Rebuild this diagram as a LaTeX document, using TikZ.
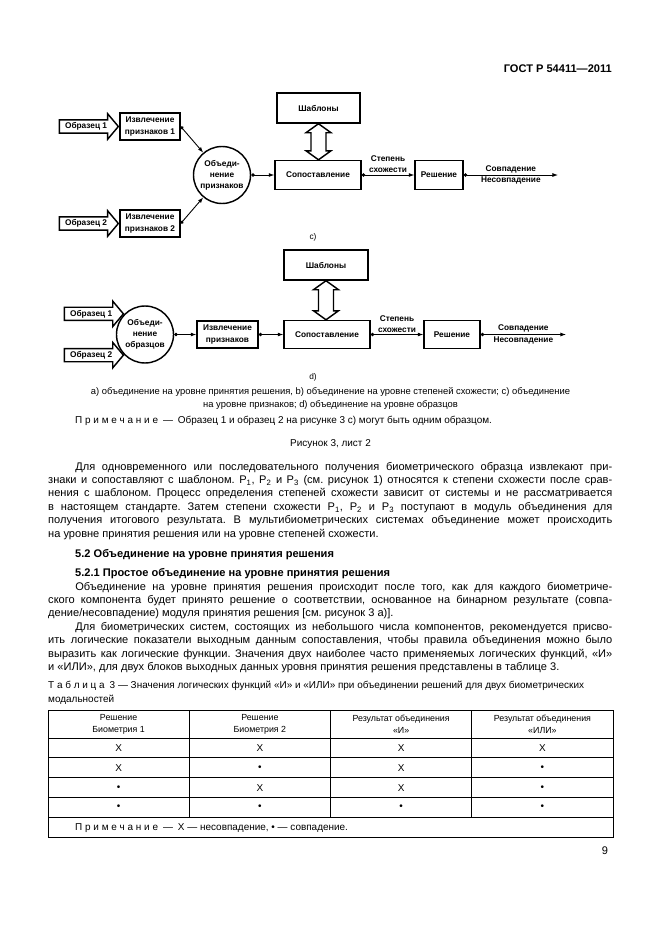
\documentclass[tikz,border=0pt]{standalone}
\usepackage{fontspec}
\setmainfont{Liberation Sans}
\usetikzlibrary{arrows.meta,calc,shapes.arrows}
\newcommand\pxu{0.904pt}
\newcommand\dgfont{\fontsize{7.5pt}{10pt}\selectfont\bfseries}
\newcommand\bodyfont{\fontsize{10pt}{12.2pt}\selectfont}
\newcommand\notefont{\fontsize{9pt}{12.3pt}\selectfont}
\newcommand\capfont{\fontsize{8.5pt}{11pt}\selectfont}
\newcommand\cellfont{\fontsize{8pt}{10.8pt}\selectfont}
\newcommand\indnt{\hspace*{24.5pt}}
\frenchspacing
\hyphenpenalty=10000
\tolerance=9999
\tikzset{
    blk/.style={draw,line width=1.3pt,fill=white,align=center,font=\dgfont,inner sep=0pt},
    fuse/.style={circle,draw,line width=1.3pt,fill=white,minimum size=57*\pxu,
        align=center,font=\dgfont,inner sep=0pt},
    sample/.style={single arrow,draw,line width=1.3pt,fill=white,font=\dgfont,
        single arrow head extend=5.5pt,single arrow tip angle=100,
        inner xsep=1.5pt,inner ysep=1.8pt,minimum height=59*\pxu,anchor=tip},
    hollow/.style={draw,line width=1.3pt,fill=white,line join=miter},
    link/.style={{Circle[length=3.2pt]}-{Latex[length=5pt,width=3.6pt]},line width=0.8pt},
    lbl/.style={font=\dgfont,align=center,inner sep=1.5pt},
    figtag/.style={font=\fontsize{7.5pt}{9pt}\selectfont,inner sep=0pt},
    para/.style={text width=509.9pt,align=justify,font=\bodyfont,inner sep=0pt,anchor=base west},
    line/.style={inner sep=0pt,anchor=base west},
    cell/.style={font=\cellfont,align=center,inner sep=0pt},
    tbl/.style={line width=0.7pt}
}
\begin{document}
\begin{tikzpicture}[x=0.904pt,y=-0.904pt]
\useasboundingbox[fill=white] (0,0) rectangle (661,935);

% running head
\node[line,anchor=base east,font=\fontsize{10pt}{12pt}\selectfont\bfseries] (head) at (612,72.5) {ГОСТ Р 54411—2011};

% figure c): fusion at feature level
\node[blk,minimum width=83*\pxu,minimum height=30*\pxu] (tplC) at (318.5,108) {Шаблоны};
\node[blk,minimum width=86*\pxu,minimum height=29*\pxu] (cmpC) at (318,175) {Сопоставление};
\node[blk,minimum width=60*\pxu,minimum height=27*\pxu] (extC1) at (150,126.5) {Извлечение\\признаков 1};
\node[blk,minimum width=60*\pxu,minimum height=27*\pxu] (extC2) at (150,223.5) {Извлечение\\признаков 2};
\node[fuse] (fusC) at (222,175) {Объеди-\\нение\\признаков};
\node[blk,minimum width=48*\pxu,minimum height=29*\pxu] (decC) at (439,175) {Решение};
\coordinate (outC) at (558,175);
\node[sample] (smpC1) at (extC1.west) {Образец 1};
\node[sample] (smpC2) at (extC2.west) {Образец 2};

\draw[link] (extC1.east) -- (fusC.130);
\draw[link] (extC2.east) -- (fusC.230);
\draw[link] (fusC.east) -- (cmpC.west);
\draw[link] (cmpC.east) -- node[lbl,above] {Степень\\схожести} (decC.west);
\draw[link] (decC.east) -- node[lbl,above] {Совпадение} node[lbl,below] {Несовпадение} (outC);

\coordinate (dblC1) at (tplC.south);
\coordinate (dblC2) at (tplC.south |- cmpC.north);
\draw[hollow] (dblC1) -- ++(12.5,9) -- ++(-5,0) -- ($(dblC2)+(7.5,-9)$) -- ++(5,0) -- (dblC2)
    -- ++(-12.5,-9) -- ++(5,0) -- ($(dblC1)+(-7.5,9)$) -- ++(-5,0) -- cycle;

\node[figtag] (tagC) at (313,237) {c)};

% figure d): fusion at sample level
\node[fuse] (fusD) at (145,334.5) {Объеди-\\нение\\образцов};
\node[sample] (smpD1) at (fusD.135) {Образец 1};
\node[sample] (smpD2) at (fusD.225) {Образец 2};
\node[blk,minimum width=61*\pxu,minimum height=27*\pxu] (extD) at (227.5,334.5) {Извлечение\\признаков};
\node[blk,minimum width=84*\pxu,minimum height=30*\pxu] (tplD) at (326,265) {Шаблоны};
\node[blk,minimum width=86*\pxu,minimum height=28*\pxu] (cmpD) at (327,334.5) {Сопоставление};
\node[blk,minimum width=56*\pxu,minimum height=28*\pxu] (decD) at (452,334.5) {Решение};
\coordinate (outD) at (566,334.5);

\draw[link] (fusD.east) -- (extD.west);
\draw[link] (extD.east) -- (cmpD.west);
\draw[link] (cmpD.east) -- node[lbl,above] {Степень\\схожести} (decD.west);
\draw[link] (decD.east) -- node[lbl,above] {Совпадение} node[lbl,below] {Несовпадение} (outD);

\coordinate (dblD1) at (tplD.south);
\coordinate (dblD2) at (tplD.south |- cmpD.north);
\draw[hollow] (dblD1) -- ++(12.5,9) -- ++(-5,0) -- ($(dblD2)+(7.5,-9)$) -- ++(5,0) -- (dblD2)
    -- ++(-12.5,-9) -- ++(5,0) -- ($(dblD1)+(-7.5,9)$) -- ++(-5,0) -- cycle;

\node[figtag] (tagD) at (313,377) {d)};

% figure legend
\node[line,anchor=base,font=\capfont] (capA) at (330.5,394.5) {a) объединение на уровне принятия решения, b) объединение на уровне степеней схожести; c) объединение};
\node[line,anchor=base,font=\capfont] (capB) at (330.5,407.5) {на уровне признаков; d) объединение на уровне образцов};
\node[line,font=\notefont] (fnote) at (75,423.6) {П р и м е ч а н и е\enspace—\enspace Образец 1 и образец 2 на рисунке 3 c) могут быть одним образцом.};
\node[line,anchor=base,font=\notefont] (ftitle) at (330.5,446.6) {Рисунок 3, лист 2};

% body text
\node[para] (txtA) at (48,470) {\indnt Для одновременного или последовательного получения биометрического образца извлекают при-\linebreak знаки и сопоставляют с шаблоном. P\textsubscript{1}, P\textsubscript{2} и P\textsubscript{3} (см. рисунок 1) относятся к степени схожести после срав-\linebreak нения с шаблоном. Процесс определения степеней схожести зависит от системы и не рассматривается\linebreak в настоящем стандарте. Затем степени схожести P\textsubscript{1}, P\textsubscript{2} и P\textsubscript{3} поступают в модуль объединения для\linebreak получения итогового результата. В мультибиометрических системах объединение может происходить\linebreak на уровне принятия решения или на уровне степеней схожести.};

\node[line,font=\bodyfont\bfseries] (sec52) at (75,557.7) {5.2 Объединение на уровне принятия решения};
\node[line,font=\bodyfont\bfseries] (sec521) at (75,576) {5.2.1 Простое объединение на уровне принятия решения};

\node[para] (txtB) at (48,590) {\indnt Объединение на уровне принятия решения происходит после того, как для каждого биометриче-\linebreak ского компонента будет принято решение о соответствии, основанное на бинарном результате (совпа-\linebreak дение/несовпадение) модуля принятия решения [см. рисунок 3 a)].\par
\indnt Для биометрических систем, состоящих из небольшого числа компонентов, рекомендуется присво-\linebreak ить логические показатели выходным данным сопоставления, чтобы правила объединения можно было\linebreak выразить как логические функции. Значения двух наиболее часто применяемых логических функций, «И»\linebreak и «ИЛИ», для двух блоков выходных данных уровня принятия решения представлены в таблице 3.};

% table 3
\node[line,font=\notefont] (tcap1) at (48,688.4) {Т а б л и ц а\enspace 3 — Значения логических функций «И» и «ИЛИ» при объединении решений для двух биометрических};
\node[line,font=\notefont] (tcap2) at (48,702.1) {модальностей};

\draw[tbl] (48,710.5) rectangle (613,837.5);
\foreach \yy in {738,757.5,777.5,797.5,817.5}
    \draw[tbl] (48,\yy) -- (613,\yy);
\foreach \xx in {189.25,330.5,471.75}
    \draw[tbl] (\xx,710.5) -- (\xx,817.5);

\node[cell] (hd1) at (118.6,724.5) {Решение\\Биометрия 1};
\node[cell] (hd2) at (259.9,724.5) {Решение\\Биометрия 2};
\node[cell] (hd3) at (401.1,724.5) {Результат объединения\\«И»};
\node[cell] (hd4) at (542.4,724.5) {Результат объединения\\«ИЛИ»};

\foreach \row [count=\i] in {{X,X,X,X},{X,•,X,•},{•,X,X,•},{•,•,•,•}}
    \foreach \val [count=\j] in \row
        \node[cell,font=\notefont] (v\i\j) at ({48+141.25*(\j-0.5)},{738+19.875*(\i-0.5)}) {\val};

\node[line,font=\notefont] (tnote) at (75,830.5) {П р и м е ч а н и е\enspace—\enspace X — несовпадение, • — совпадение.};

\node[inner sep=0pt,font=\bodyfont] (pgno) at (605,851) {9};
\end{tikzpicture}
\end{document}
